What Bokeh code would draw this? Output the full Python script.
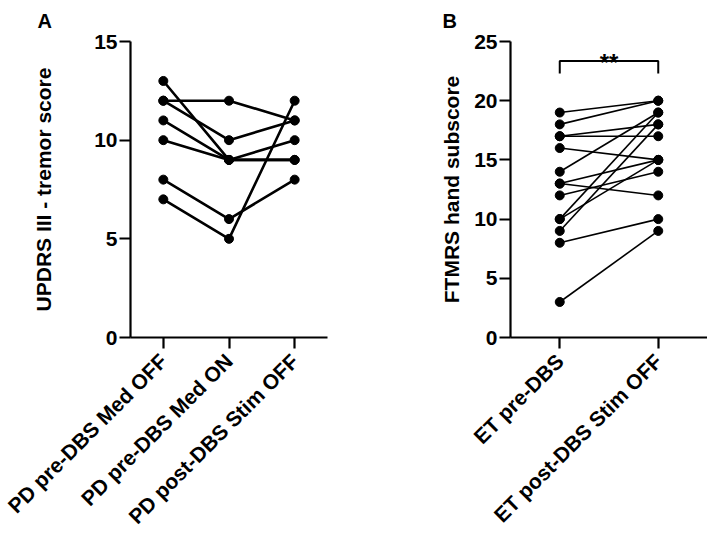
import math
from bokeh.plotting import figure
from bokeh.layouts import row
from bokeh.models import FixedTicker, Range1d
from bokeh.core.properties import value
from bokeh.embed import file_html
from bokeh.resources import INLINE

# ---- Data ----
pd_categories = ["PD pre-DBS Med OFF", "PD pre-DBS Med ON", "PD post-DBS Stim OFF"]
pd_med_off = [13, 12, 12, 11, 10, 8, 7]
pd_med_on = [9, 12, 10, 9, 9, 6, 5]
pd_stim_off = [10, 11, 11, 9, 9, 8, 12]
pd_yticks = [0, 5, 10, 15]

et_categories = ["ET pre-DBS", "ET post-DBS Stim OFF"]
et_pre = [19, 18, 17, 17, 16, 14, 13, 13, 12, 10, 10, 9, 8, 3]
et_post = [20, 20, 18, 17, 15, 19, 15, 12, 14, 19, 15, 18, 10, 9]
et_yticks = [0, 5, 10, 15, 20, 25]
sig_text = "**"

FONT = "Liberation Sans"


def style(p, ylabel, standoff, panel_letter, title_offset):
    p.outline_line_color = None
    p.xgrid.grid_line_color = None
    p.ygrid.grid_line_color = None
    p.background_fill_color = "white"
    p.border_fill_color = "white"
    for ax in (p.xaxis[0], p.yaxis[0]):
        ax.axis_line_width = 2.2
        ax.axis_line_color = "black"
        ax.major_tick_line_width = 2.2
        ax.major_tick_line_color = "black"
        ax.major_tick_in = 0
        ax.major_tick_out = 11
        ax.minor_tick_line_color = None
        ax.major_label_text_font = FONT
        ax.major_label_text_font_style = "bold"
        ax.major_label_text_font_size = "21px"
        ax.major_label_text_color = "black"
        ax.major_label_standoff = 2
    p.xaxis.major_label_orientation = math.pi / 4
    p.xaxis.major_label_standoff = 9
    p.xaxis.major_label_text_font_size = "21px"
    p.yaxis.axis_label = ylabel
    p.yaxis.axis_label_text_font = FONT
    p.yaxis.axis_label_text_font_style = "bold"
    p.yaxis.axis_label_text_font_size = "21px"
    p.yaxis.axis_label_text_color = "black"
    p.yaxis.axis_label_standoff = standoff
    p.title.text = panel_letter
    p.title.text_font = FONT
    p.title.text_font_style = "bold"
    p.title.text_font_size = "20px"
    p.title.text_color = "black"
    p.title.align = "left"
    p.title.vertical_align = "top"
    p.title.offset = title_offset
    p.title.standoff = 15


# ---- Panel A ----
pa = figure(frame_width=197, frame_height=296, output_backend="svg",
            toolbar_location=None,
            x_range=Range1d(-0.5, 2.5), y_range=Range1d(0, 15),
            min_border_left=130, min_border_right=93, min_border_top=41,
            min_border_bottom=10)
style(pa, "UPDRS III - tremor score", 36, "A", -93)
pa.xaxis.ticker = FixedTicker(ticks=[0, 1, 2])
pa.xaxis.major_label_overrides = {i: c for i, c in enumerate(pd_categories)}
pa.yaxis.ticker = FixedTicker(ticks=pd_yticks)

xs_a = [[0, 1, 2] for _ in pd_med_off]
ys_a = [[a, b, c] for a, b, c in zip(pd_med_off, pd_med_on, pd_stim_off)]
pa.multi_line(xs_a, ys_a, line_color="black", line_width=2.6)
for i, vals in enumerate([pd_med_off, pd_med_on, pd_stim_off]):
    pa.scatter([i] * len(vals), vals, size=9, color="black")

# ---- Panel B ----
pb = figure(frame_width=197, frame_height=296, output_backend="svg",
            toolbar_location=None,
            x_range=Range1d(-0.5, 1.5), y_range=Range1d(0, 25),
            min_border_left=90, min_border_right=0, min_border_top=41,
            min_border_bottom=10)
style(pb, "FTMRS hand subscore", 8, "B", -68)
pb.xaxis.ticker = FixedTicker(ticks=[0, 1])
pb.xaxis.major_label_overrides = {i: c for i, c in enumerate(et_categories)}
pb.yaxis.ticker = FixedTicker(ticks=et_yticks)

xs_b = [[0, 1] for _ in et_pre]
ys_b = [[a, b] for a, b in zip(et_pre, et_post)]
pb.multi_line(xs_b, ys_b, line_color="black", line_width=1.6)
pb.scatter([0] * len(et_pre), et_pre, size=9, color="black")
pb.scatter([1] * len(et_post), et_post, size=9, color="black")

# significance bracket
pb.line([0, 0, 1, 1], [22.3, 23.35, 23.35, 22.3], line_color="black", line_width=2)
pb.text(x=[0.5], y=[23.2], text=[sig_text], text_font=value(FONT),
        text_font_style="bold", text_font_size="24px", text_align="center",
        text_baseline="alphabetic", text_color="black")

layout = row(pa, pb)
open("out.html", "w").write(file_html(layout, INLINE))
